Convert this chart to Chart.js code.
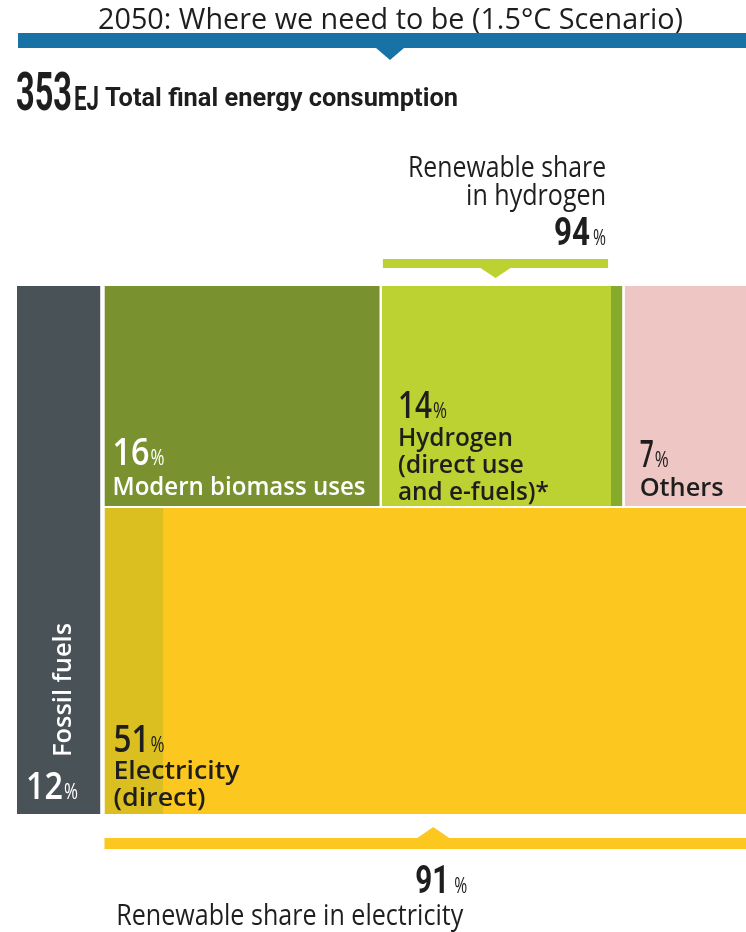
<!DOCTYPE html>
<html>
<head>
<meta charset="utf-8">
<title>2050 final energy mix</title>
<script src="https://cdn.jsdelivr.net/npm/chart.js@4.4.1/dist/chart.umd.min.js"></script>
<style>
  html, body { margin: 0; padding: 0; background: #fff; }
  canvas { display: block; }
</style>
</head>
<body>
<canvas id="mix-chart" width="746" height="932"></canvas>
<script>
// 2050, 1.5°C scenario: shares of total final energy consumption
const categories = ['Fossil fuels', 'Modern biomass uses', 'Hydrogen (direct use and e-fuels)*', 'Others', 'Electricity (direct)'];
const shares = [12, 16, 14, 7, 51];          // % of TFEC
const hydrogenRenewable = 94;                // % renewable share in hydrogen
const electricityRenewable = 91;             // % renewable share in electricity
const totalConsumption = 353;                // EJ

const colors = {
    fossil: '#495257',
    biomass: '#7a912f',
    hydrogen: '#bbd232',
    hydrogenOther: '#85aa2c',
    others: '#eec6c4',
    electricity: '#fcc71e',
    electricityOther: '#dbbf21',
    header: '#1872a5',
    dark: '#1e1e1e'
};

// fossil column on the left, the rest split in two rows (area = share)
function buildCells() {
    const [fossil, biomass, hydrogen, others, electricity] = shares;
    const rest = 100 - fossil;
    const topRow = biomass + hydrogen + others;
    const split = electricity / rest * 100;
    const cells = {
        fossil: { x0: 0, x1: fossil, y0: 0, y1: 100 },
        electricity: { x0: fossil, x1: 100, y0: 0, y1: split }
    };
    let x = fossil;
    [['biomass', biomass], ['hydrogen', hydrogen], ['others', others]].forEach(function (item) {
        const w = item[1] / topRow * rest;
        cells[item[0]] = { x0: x, x1: x + w, y0: split, y1: 100 };
        x += w;
    });
    return cells;
}

const cells = buildCells();
const GAP_X = 0.3, GAP_FOSSIL = 0.55, GAP_Y = 0.4;
const SEAM = 0.15;   // small overlap so the two tones of a block don't leave a hairline

// one filled line per rectangle: top edge as the line, filled down to y0
function block(label, x0, x1, y0, y1, color) {
    return {
        label: label,
        data: [{ x: x0, y: y1 }, { x: x1, y: y1 }],
        fill: { value: y0 },
        backgroundColor: color,
        borderColor: 'rgba(0,0,0,0)',
        borderWidth: 1,
        pointRadius: 0,
        tension: 0
    };
}

const c = cells;
const hSplit = c.hydrogen.x0 + (c.hydrogen.x1 - c.hydrogen.x0) * hydrogenRenewable / 100;
const eSplit = c.electricity.x0 + (c.electricity.x1 - c.electricity.x0) * (100 - electricityRenewable) / 100;

// earlier datasets are painted on top of later ones
const datasets = [
    block(categories[0], c.fossil.x0, c.fossil.x1 - GAP_FOSSIL, c.fossil.y0, c.fossil.y1, colors.fossil),
    block(categories[1], c.biomass.x0, c.biomass.x1 - GAP_X, c.biomass.y0 + GAP_Y, c.biomass.y1, colors.biomass),
    block(categories[2], c.hydrogen.x0, hSplit + SEAM, c.hydrogen.y0 + GAP_Y, c.hydrogen.y1, colors.hydrogen),
    block(categories[2] + ' (other)', hSplit, c.hydrogen.x1 - GAP_X, c.hydrogen.y0 + GAP_Y, c.hydrogen.y1, colors.hydrogenOther),
    block(categories[3], c.others.x0, c.others.x1, c.others.y0 + GAP_Y, c.others.y1, colors.others),
    block(categories[4] + ' (other)', c.electricity.x0, eSplit + SEAM, c.electricity.y0, c.electricity.y1, colors.electricityOther),
    block(categories[4], eSplit, c.electricity.x1, c.electricity.y0, c.electricity.y1, colors.electricity)
];

// text helper, optional width squeezes the text horizontally
function text(ctx, str, x, y, font, color, opts) {
    opts = opts || {};
    ctx.save();
    ctx.font = font;
    ctx.fillStyle = color;
    ctx.textBaseline = 'alphabetic';
    const w = ctx.measureText(str).width;
    const sx = opts.width ? opts.width / w : (opts.scale || 1);
    ctx.translate(x, y);
    if (opts.rotate) ctx.rotate(opts.rotate);
    ctx.scale(sx, 1);
    ctx.textAlign = opts.align || 'left';
    ctx.fillText(str, 0, 0);
    ctx.restore();
    return w * sx;
}

const NUM_FONT = '600 37px "Open Sans"';
const PCT_FONT = '400 22px "Open Sans"';
const LABEL_FONT = '600 26px "Open Sans"';
const LIGHT_FONT = '400 30px "Open Sans"';

// "16%" style value, left aligned
function pctLeft(ctx, value, x, y, color, numWidth) {
    const w = text(ctx, String(value), x, y, NUM_FONT, color, { width: numWidth });
    text(ctx, '%', x + w + 1, y, PCT_FONT, color, { width: 14 });
}

function cellLabel(ctx, cell, lines, value, color, opts) {
    const L = ctx.chart.scales.x.getPixelForValue(cell.x0);
    const B = ctx.chart.scales.y.getPixelForValue(cell.y0);
    const x = L + opts.pad;
    let y = B - opts.bottom;
    for (let i = lines.length - 1; i >= 0; i--) {
        text(ctx, lines[i][0], x, y, LABEL_FONT, color, { width: lines[i][1] });
        if (i > 0) y -= 27;
    }
    pctLeft(ctx, value, x, y - opts.numGap, color, opts.numWidth);
}

const labelPlugin = {
    id: 'labels',
    afterDraw: function (chart) {
        const ctx = chart.ctx;
        ctx.chart = chart;
        const xs = chart.scales.x, ys = chart.scales.y;

        // header
        text(ctx, '2050: Where we need to be (1.5°C Scenario)', 98, 29, '500 29px "Open Sans"', colors.dark, { width: 585 });
        ctx.fillStyle = colors.header;
        ctx.fillRect(18, 33, 728, 15);
        ctx.beginPath();
        ctx.moveTo(376, 48); ctx.lineTo(404, 48); ctx.lineTo(390, 60); ctx.closePath();
        ctx.fill();
        text(ctx, String(totalConsumption), 16, 110, '700 53px Roboto', colors.dark, { width: 56 });
        text(ctx, 'EJ', 74, 110, '700 34px Roboto', colors.dark, { width: 25 });
        text(ctx, 'Total final energy consumption', 105, 106, '700 25px Roboto', colors.dark, { width: 353 });

        // cell labels
        cellLabel(ctx, cells.biomass, [['Modern biomass uses', 253]], shares[1], '#ffffff',
            { pad: 8, bottom: 13, numGap: 30, numWidth: 37 });
        cellLabel(ctx, cells.hydrogen, [['Hydrogen', 115], ['(direct use', 126], ['and e-fuels)*', 151]], shares[2], colors.dark,
            { pad: 16, bottom: 8, numGap: 28, numWidth: 34 });
        cellLabel(ctx, cells.others, [['Others', 84]], shares[3], colors.dark,
            { pad: 15, bottom: 12, numGap: 29, numWidth: 14 });
        cellLabel(ctx, cells.electricity, [['Electricity', 126], ['(direct)', 92]], shares[4], colors.dark,
            { pad: 9, bottom: 8, numGap: 27, numWidth: 36 });

        // fossil column
        const fL = xs.getPixelForValue(cells.fossil.x0);
        const fR = xs.getPixelForValue(cells.fossil.x1 - GAP_FOSSIL);
        const fB = ys.getPixelForValue(cells.fossil.y0);
        const fc = (fL + fR) / 2;
        text(ctx, categories[0], fc + 12, fB - 57, LABEL_FONT, '#ffffff', { rotate: -Math.PI / 2, width: 134 });
        pctLeft(ctx, shares[0], fL + 9, fB - 15, '#ffffff', 37);

        // hydrogen renewable bracket
        const hL = xs.getPixelForValue(cells.hydrogen.x0) + 1;
        const hR = xs.getPixelForValue(hSplit) - 2;
        const hc = (hL + hR) / 2;
        ctx.fillStyle = '#bbd232';
        ctx.fillRect(hL, 259, hR - hL, 9);
        ctx.beginPath();
        ctx.moveTo(hc - 15, 268); ctx.lineTo(hc + 15, 268); ctx.lineTo(hc, 278); ctx.closePath();
        ctx.fill();
        text(ctx, 'Renewable share', hR - 2, 177, LIGHT_FONT, colors.dark, { align: 'right', width: 198 });
        text(ctx, 'in hydrogen', hR - 2, 205, LIGHT_FONT, colors.dark, { align: 'right', width: 140 });
        const p1 = text(ctx, '%', hR - 2, 245, PCT_FONT, colors.dark, { align: 'right', width: 13 });
        text(ctx, String(hydrogenRenewable), hR - 2 - p1 - 3, 245, '700 38px Roboto', colors.dark, { align: 'right', width: 36 });

        // electricity renewable bracket
        const eL = xs.getPixelForValue(cells.electricity.x0);
        const eR = xs.getPixelForValue(cells.electricity.x1);
        const ec = (eL + eR) / 2 + 8;
        ctx.fillStyle = '#fcc81f';
        ctx.fillRect(eL, 838, eR - eL, 11);
        ctx.beginPath();
        ctx.moveTo(ec - 16, 838); ctx.lineTo(ec + 16, 838); ctx.lineTo(ec, 827); ctx.closePath();
        ctx.fill();
        const p2 = text(ctx, '%', ec + 34, 893, PCT_FONT, colors.dark, { align: 'right', width: 13 });
        text(ctx, String(electricityRenewable), ec + 34 - p2 - 5, 893, '700 38px Roboto', colors.dark, { align: 'right', width: 34 });
        text(ctx, 'Renewable share in electricity', ec + 30, 925, LIGHT_FONT, colors.dark, { align: 'right', width: 347 });
    }
};

new Chart(document.getElementById('mix-chart').getContext('2d'), {
    type: 'line',
    data: { datasets: datasets },
    options: {
        responsive: false,
        animation: false,
        devicePixelRatio: 1,
        events: [],
        layout: { padding: { left: 17, right: 0, top: 286, bottom: 118 } },
        scales: {
            x: { type: 'linear', min: 0, max: 100, display: false },
            y: { type: 'linear', min: 0, max: 100, display: false }
        },
        plugins: {
            legend: { display: false },
            tooltip: { enabled: false }
        }
    },
    plugins: [labelPlugin]
});
</script>
</body>
</html>
